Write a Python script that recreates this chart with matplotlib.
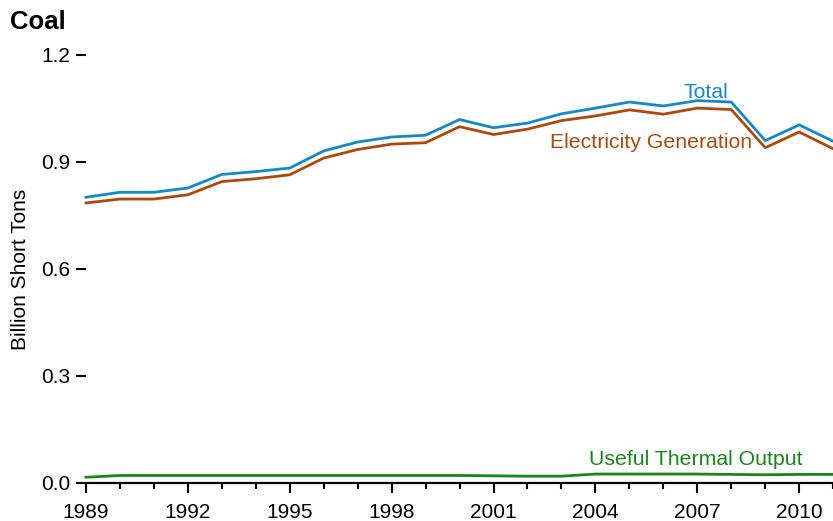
"""Coal consumption by use, 1989-2011."""

import numpy as np
import matplotlib
matplotlib.use("Agg")
import matplotlib.pyplot as plt
from matplotlib.ticker import MultipleLocator


# =============================================================================
# Data (billion short tons)
years = np.arange(1989, 2012)
total = [0.801, 0.815, 0.815, 0.827, 0.865, 0.873, 0.883, 0.931, 0.956, 0.970,
         0.975, 1.019, 0.996, 1.009, 1.035, 1.051, 1.068, 1.057, 1.072, 1.068,
         0.960, 1.004, 0.958]
electricity = [0.785, 0.796, 0.796, 0.808, 0.845, 0.853, 0.864, 0.911, 0.935,
               0.950, 0.954, 0.999, 0.977, 0.992, 1.016, 1.029, 1.046, 1.034,
               1.051, 1.047, 0.940, 0.984, 0.937]
thermal = [0.016, 0.021, 0.021, 0.021, 0.021, 0.021, 0.021, 0.021, 0.021,
           0.021, 0.021, 0.021, 0.020, 0.019, 0.019, 0.025, 0.025, 0.025,
           0.025, 0.024, 0.023, 0.024, 0.024]

c_total = "#128ac9"
c_elec = "#ad4a0b"
c_thermal = "#17871a"

plt.rcParams["font.family"] = ["Liberation Sans", "DejaVu Sans"]

# =============================================================================
fig = plt.figure(figsize=(8.33, 5.21), dpi=100)
ax = fig.add_axes([0.1032, 0.073, 0.897, 0.8215])

ax.plot(years, total, lw=2.0, color=c_total, clip_on=False)
ax.plot(years, electricity, lw=2.0, color=c_elec, clip_on=False)
ax.plot(years, thermal, lw=2.0, color=c_thermal, clip_on=False)

ax.text(2007.9, 1.078, "Total", color=c_total, fontsize=15.3, ha="right",
        va="baseline")
ax.text(2008.6, 0.938, "Electricity Generation", color=c_elec, fontsize=15.3,
        ha="right", va="baseline")
ax.text(2010.1, 0.051, "Useful Thermal Output", color=c_thermal,
        fontsize=15.3, ha="right", va="baseline")

ax.set_xlim(1989, 2011)
ax.set_ylim(0, 1.2)
ax.set_xticks(np.arange(1989, 2011, 3))
ax.xaxis.set_minor_locator(MultipleLocator(1))
ax.set_yticks([0, 0.3, 0.6, 0.9, 1.2])
ax.set_yticklabels(["0.0", "0.3", "0.6", "0.9", "1.2"])

for side in ("top", "right", "left"):
    ax.spines[side].set_visible(False)
ax.spines["bottom"].set_linewidth(1.6)

ax.tick_params(axis="x", which="major", length=7.5, width=1.5, labelsize=15,
               pad=7)
ax.tick_params(axis="x", which="minor", length=4.5, width=1.5)
ax.tick_params(axis="y", length=7, width=1.5, labelsize=15, pad=4)

ax.set_ylabel("Billion Short Tons", fontsize=15, labelpad=8)
fig.text(0.012, 0.945, "Coal", fontsize=18.5, fontweight="bold",
         va="baseline")

fig.savefig("out.png", dpi=100)
